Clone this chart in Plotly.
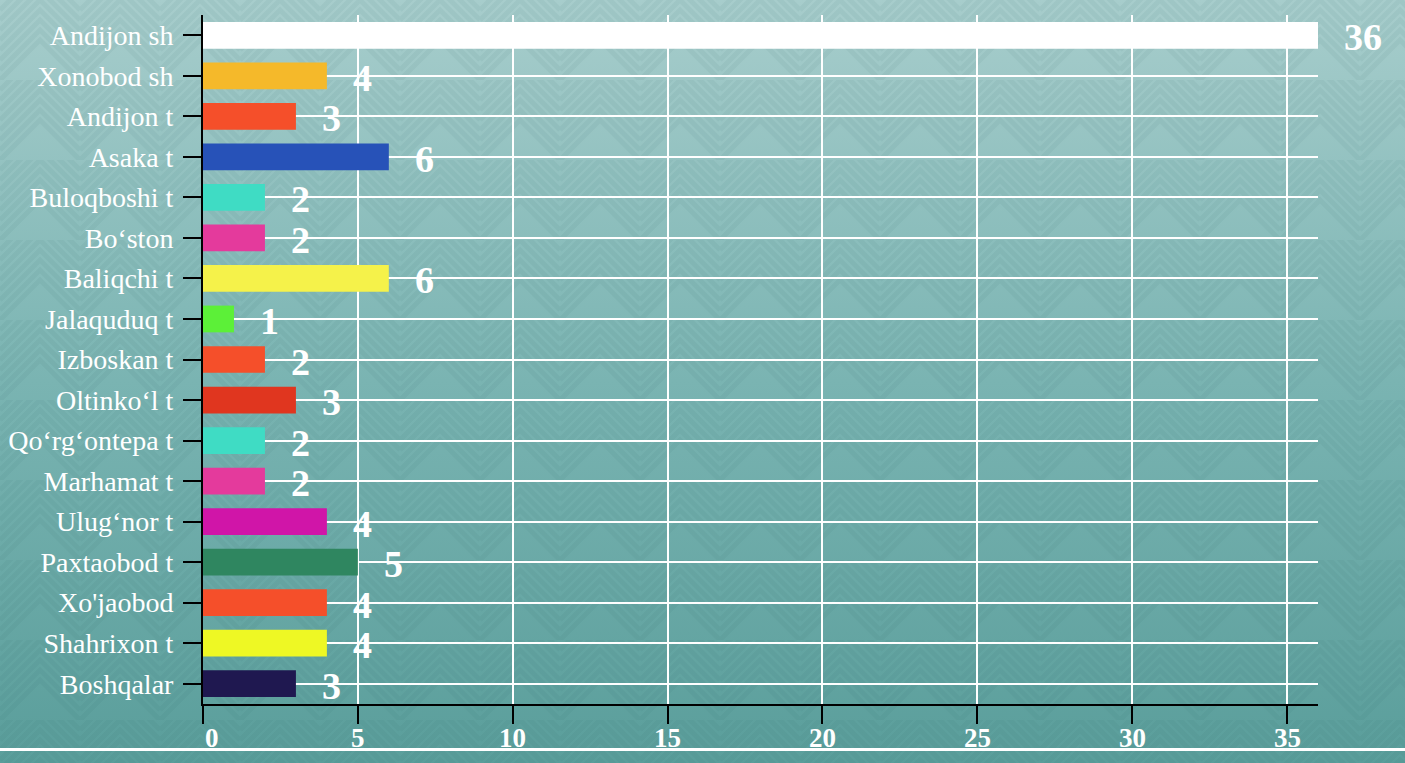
import base64
import plotly.graph_objects as go

categories = ["Andijon sh", "Xonobod sh", "Andijon t", "Asaka t", "Buloqboshi t",
              "Bo\u2018ston", "Baliqchi t", "Jalaquduq t", "Izboskan t", "Oltinko\u2018l t",
              "Qo\u2018rg\u2018ontepa t", "Marhamat t", "Ulug\u2018nor t", "Paxtaobod t",
              "Xo'jaobod", "Shahrixon t", "Boshqalar"]
values = [36, 4, 3, 6, 2, 2, 6, 1, 2, 3, 2, 2, 4, 5, 4, 4, 3]
bar_colors = ["#ffffff", "#f5b92a", "#f54f2a", "#2752b8", "#3fdcc4",
              "#e43a9c", "#f5f24a", "#5cf038", "#f54f2a", "#e0361f",
              "#3fdcc4", "#e43a9c", "#d015a8", "#2f8660", "#f54f2a",
              "#eef824", "#1f1850"]
x_ticks = [0, 5, 10, 15, 20, 25, 30, 35]

FW, FH = 1405, 763
L, R, T, B = 203, 87, 15, 59
PW, PH = FW - L - R, FH - T - B

def py(pixel_y):
    """figure pixel row -> paper y"""
    return (FH - B - pixel_y) / PH

chev = "".join(
    f'<polyline points="0,{y+40} 40,{y} 80,{y+40}" fill="none" stroke="#1d5a58" stroke-opacity="0.06" stroke-width="5"/>'
    for y in (0, 10, 20, 30, 40, -10, -20, -30)
)
svg = f'''<svg xmlns="http://www.w3.org/2000/svg" width="{FW}" height="{FH}" viewBox="0 0 {FW} {FH}">
<defs>
<linearGradient id="g" x1="0" y1="0" x2="0" y2="1">
<stop offset="0" stop-color="#a7cdcc"/>
<stop offset="0.5" stop-color="#7ab4b2"/>
<stop offset="1" stop-color="#5a9e9b"/>
</linearGradient>
<pattern id="p" width="80" height="80" patternUnits="userSpaceOnUse">{chev}</pattern>
</defs>
<rect width="{FW}" height="{FH}" fill="url(#g)"/>
<rect width="{FW}" height="{FH}" fill="url(#p)"/>
</svg>'''
bg_src = "data:image/svg+xml;base64," + base64.b64encode(svg.encode()).decode()

serif = "Liberation Serif"

fig = go.Figure(go.Bar(
    x=values, y=categories, orientation="h",
    marker=dict(color=bar_colors, line=dict(width=0)),
    width=0.66, hoverinfo="skip",
))

# value labels to the right of each bar
for c, v in zip(categories, values):
    fig.add_annotation(
        x=v, y=c, text=str(v), showarrow=False,
        xanchor="left", yanchor="middle", xshift=24, yshift=-2,
        font=dict(family=serif, size=38, color="white", weight="bold"),
    )

# x tick labels (placed just under the tick marks)
for t in x_ticks:
    fig.add_annotation(
        x=t, y=py(738), xref="x", yref="paper", text=str(t), showarrow=False,
        xanchor="left" if t == x_ticks[0] else "center", yanchor="middle",
        font=dict(family=serif, size=27, color="white", weight="bold"),
    )

fig.update_layout(
    width=FW, height=FH,
    margin=dict(l=L, r=R, t=T, b=B, pad=0, autoexpand=False),
    paper_bgcolor="#79b3b1",
    plot_bgcolor="rgba(0,0,0,0)",
    showlegend=False,
    images=[dict(
        source=bg_src, xref="paper", yref="paper",
        x=-L / PW, y=1 + T / PH, sizex=FW / PW, sizey=FH / PH,
        xanchor="left", yanchor="top", sizing="stretch", layer="below",
    )],
    shapes=[dict(
        type="line", xref="paper", yref="paper",
        x0=-L / PW, x1=(FW - L) / PW,
        y0=py(749.5), y1=py(749.5),
        line=dict(color="white", width=3), layer="above",
    )],
    xaxis=dict(
        range=[0, 36], tickvals=x_ticks, showticklabels=False,
        showgrid=True, gridcolor="white", gridwidth=2,
        zeroline=False, showline=True, linecolor="black", linewidth=2,
        ticks="outside", ticklen=18, tickwidth=2, tickcolor="black",
        automargin=False, fixedrange=True,
    ),
    yaxis=dict(
        type="category", autorange=False,
        range=[len(categories) - 0.5, -0.5],
        showgrid=True, gridcolor="white", gridwidth=2,
        zeroline=False, showline=True, linecolor="black", linewidth=2,
        ticks="outside", ticklen=18, tickwidth=2, tickcolor="black",
        tickfont=dict(family=serif, size=28, color="white"),
        ticklabelstandoff=4, automargin=False,
        fixedrange=True,
    ),
)

fig.write_html(
    "out.html",
    config={"displayModeBar": False},
    post_script="document.body.style.margin='0';document.body.style.background='#79b3b1';",
)
